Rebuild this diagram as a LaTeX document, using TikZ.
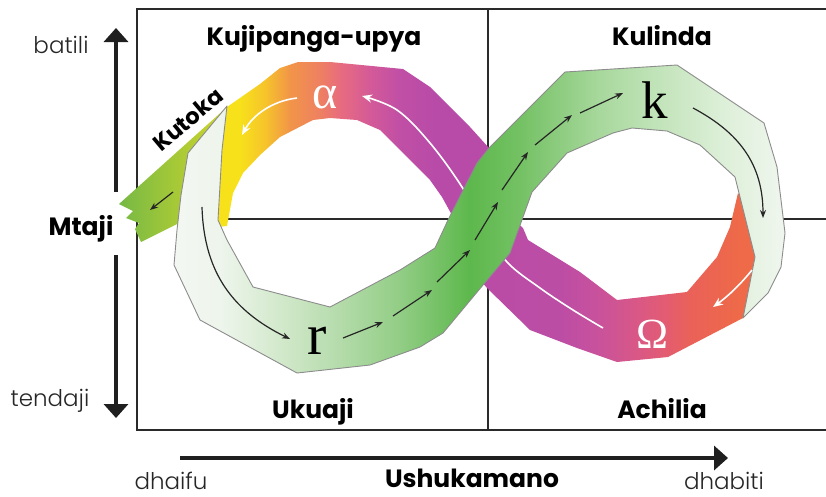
\documentclass[tikz,border=0pt]{standalone}
\usepackage{fontspec}
\setmainfont{Poppins}
\newfontfamily\lightfont{Poppins Light}
\newfontfamily\grk{Liberation Serif}
\usetikzlibrary{arrows.meta}
\definecolor{frameC}{HTML}{2A2A2A}
\definecolor{edgeC}{HTML}{8C8C8C}
% top coloured band
\definecolor{tA}{HTML}{F7E11A}
\definecolor{tB}{HTML}{F6C42B}
\definecolor{tC}{HTML}{F19548}
\definecolor{tD}{HTML}{EE8062}
\definecolor{tE}{HTML}{E86C7E}
\definecolor{tF}{HTML}{D45A98}
\definecolor{tG}{HTML}{C04FA5}
\definecolor{tH}{HTML}{B84BA8}
% bottom coloured band
\definecolor{bA}{HTML}{B94CA7}
\definecolor{bB}{HTML}{BC4DA5}
\definecolor{bC}{HTML}{C9529B}
\definecolor{bD}{HTML}{DA5884}
\definecolor{bE}{HTML}{E35C72}
\definecolor{bF}{HTML}{EA6159}
\definecolor{bG}{HTML}{EE6A48}
% green ribbon
\definecolor{gA}{HTML}{F3F7F2}
\definecolor{gB}{HTML}{EEF5EC}
\definecolor{gC}{HTML}{D2E9CB}
\definecolor{gD}{HTML}{B9DDB0}
\definecolor{gE}{HTML}{92CD85}
\definecolor{gF}{HTML}{5DB84C}
\definecolor{gG}{HTML}{74C164}
\definecolor{gH}{HTML}{A8D89D}
\definecolor{gI}{HTML}{C3E4BB}
\definecolor{gJ}{HTML}{DCEFD7}
\definecolor{gK}{HTML}{F0F6EF}
% branch
\definecolor{brA}{HTML}{76B945}
\definecolor{brB}{HTML}{D2D72A}
\pgfdeclarehorizontalshading{topband}{100bp}{color(0bp)=(tA); color(25bp)=(tA); color(30.7bp)=(tA); color(34.8bp)=(tB); color(38.9bp)=(tC); color(43.9bp)=(tD); color(47.1bp)=(tE); color(52bp)=(tF); color(56.9bp)=(tG); color(63bp)=(tH); color(100bp)=(tH)}
\pgfdeclarehorizontalshading{botband}{100bp}{color(0bp)=(bA); color(25bp)=(bA); color(40.4bp)=(bB); color(47.3bp)=(bC); color(54.1bp)=(bD); color(58.4bp)=(bE); color(62.7bp)=(bF); color(71.2bp)=(bG); color(100bp)=(bG)}
\pgfdeclarehorizontalshading{greenband}{100bp}{color(0bp)=(gA); color(25bp)=(gA); color(28.8bp)=(gB); color(33.7bp)=(gC); color(37.8bp)=(gD); color(43.5bp)=(gE); color(49.2bp)=(gF); color(53.3bp)=(gG); color(59.9bp)=(gH); color(64.8bp)=(gI); color(69.7bp)=(gJ); color(75bp)=(gK); color(100bp)=(gK)}
\tikzset{
  frameline/.style={line width=2.4pt, draw=frameC},
  axisarrow/.style={line width=4.6pt, draw=black!88, -{Triangle[length=14pt,width=24pt]}},
  inarrow/.style={line width=1.2pt, draw=black!85, -{Stealth[length=8pt,width=6pt]}},
  wharrow/.style={line width=1.6pt, draw=white, -{Stealth[length=10pt,width=8pt]}},
  ribbonedge/.style={draw=edgeC, line width=0.9pt, line join=round},
  titletext/.style={font=\fontsize{25}{30}\selectfont\bfseries, text=black},
  lighttext/.style={font=\fontsize{23}{28}\selectfont\lightfont, text=black!85},
}
\begin{document}
\begin{tikzpicture}[x=1pt,y=-1pt]
\useasboundingbox (0,0) rectangle (826,496);
% frame
\draw[frameline] (826,9) -- (137,9) -- (137,430) -- (826,430);
\draw[frameline] (488,9) -- (488,430);
\draw[frameline] (137,219) -- (826,219);
% Kutoka branch
\shade[left color=brA, right color=brB] (227,107) -- (119,204) -- (133,211) -- (126,218) -- (139,223) -- (135,229) -- (141,242) -- (183,221) -- (212,205) -- (214,140) -- cycle;
% top coloured piece
\shade[shading=topband] (205,150) -- (227,107) -- (260,84) -- (280,68) -- (298,62) -- (330,62) -- (403,69) -- (430,87) -- (470,127) -- (489,148) -- (510,180) -- (490,232) -- (453,217) -- (442,197) -- (430,180) -- (380,130) -- (357,120) -- (330,118) -- (313,120) -- (280,137) -- (260,155) -- (243,173) -- (233,193) -- (227,226) -- (208,228) -- cycle;
% bottom coloured piece
\shade[shading=botband] (505,212) -- (523,228) -- (528,240) -- (580,272) -- (617,300) -- (687,292) -- (717,257) -- (730,227) -- (738,193) -- (760,225) -- (762,285) -- (743,318) -- (668,357) -- (617,362) -- (577,348) -- (530,330) -- (487,288) -- (470,268) -- cycle;
% white line through the magenta band
\draw[wharrow] plot[smooth, tension=0.6] coordinates {(603,328) (573,310) (540,288) (507,262) (485,228) (462,187) (430,143) (397,110) (362,96)};
% green ribbon
\shadedraw[shading=greenband, ribbonedge] (227,106) -- (188,153) -- (181,195) -- (177,230) -- (174,265) -- (200,320) -- (297,373) -- (370,365) -- (420,347) -- (443,333) -- (493,273) -- (510,253) -- (532,192) -- (567,153) -- (613,133) -- (632,128) -- (667,131) -- (700,145) -- (735,177) -- (755,257) -- (743,318) -- (768,293) -- (781,267) -- (785,233) -- (777,167) -- (764,123) -- (677,65) -- (565,72) -- (489,148) -- (477,163) -- (448,220) -- (435,248) -- (400,270) -- (330,307) -- (253,287) -- (227,240) -- (218,220) -- (222,150) -- cycle;
% arrows on the green ribbon
\draw[inarrow] (202,207) .. controls (204,275) and (235,312) .. (290,339);
\draw[inarrow] (343,338) -- (383,322);
\draw[inarrow] (393,316) -- (432,290);
\draw[inarrow] (437,282) -- (470,250);
\draw[inarrow] (475,240) -- (498,202);
\draw[inarrow] (502,190) -- (528,152);
\draw[inarrow] (535,145) -- (572,115);
\draw[inarrow] (580,113) -- (623,93);
\draw[inarrow] (693,108) .. controls (740,133) and (763,165) .. (763,218);
\draw[inarrow] (173,192) -- (150,210);
% white arrows
\draw[wharrow] (297,98) .. controls (272,101) and (253,115) .. (242,135);
\draw[wharrow] (752,270) .. controls (740,285) and (727,297) .. (713,307);
% greek letters
\node[font=\fontsize{48}{48}\selectfont\grk, text=white, inner sep=0pt] (alpha) at (325,97) {α};
\node[font=\fontsize{53}{53}\selectfont\grk, text=black, inner sep=0pt] (kk) at (655,100) {k};
\node[font=\fontsize{58}{58}\selectfont\grk, text=black, inner sep=0pt] (rr) at (317,341) {r};
\node[font=\fontsize{43}{43}\selectfont\grk, text=white, inner sep=0pt] (omega) at (652,334) {Ω};
% axes
\draw[axisarrow] (116,192) -- (116,28);
\draw[axisarrow] (116,255) -- (116,418);
\draw[axisarrow] (180,458) -- (728,458);
% labels
\node[lighttext, anchor=base] (batili) at (61,53) {batili};
\node[titletext, anchor=base] (mtaji) at (81,235) {Mtaji};
\node[lighttext, anchor=base] (tendaji) at (50,406) {tendaji};
\node[lighttext, anchor=base, inner sep=0pt] (dhaifu) at (171,489) {dhaifu};
\node[titletext, anchor=base, inner sep=0pt] (ushu) at (472,487) {Ushukamano};
\node[lighttext, anchor=base, inner sep=0pt] (dhabiti) at (724,489) {dhabiti};
\node[titletext, anchor=base] (q1) at (314,45) {Kujipanga-upya};
\node[titletext, anchor=base] (q2) at (662,45) {Kulinda};
\node[titletext, anchor=base] (q3) at (313,418) {Ukuaji};
\node[titletext, anchor=base] (q4) at (662,418) {Achilia};
\node[font=\fontsize{22.5}{26}\selectfont\bfseries, anchor=base, rotate=40, inner sep=0pt] (kutoka) at (193,126) {Kutoka};
\end{tikzpicture}
\end{document}
